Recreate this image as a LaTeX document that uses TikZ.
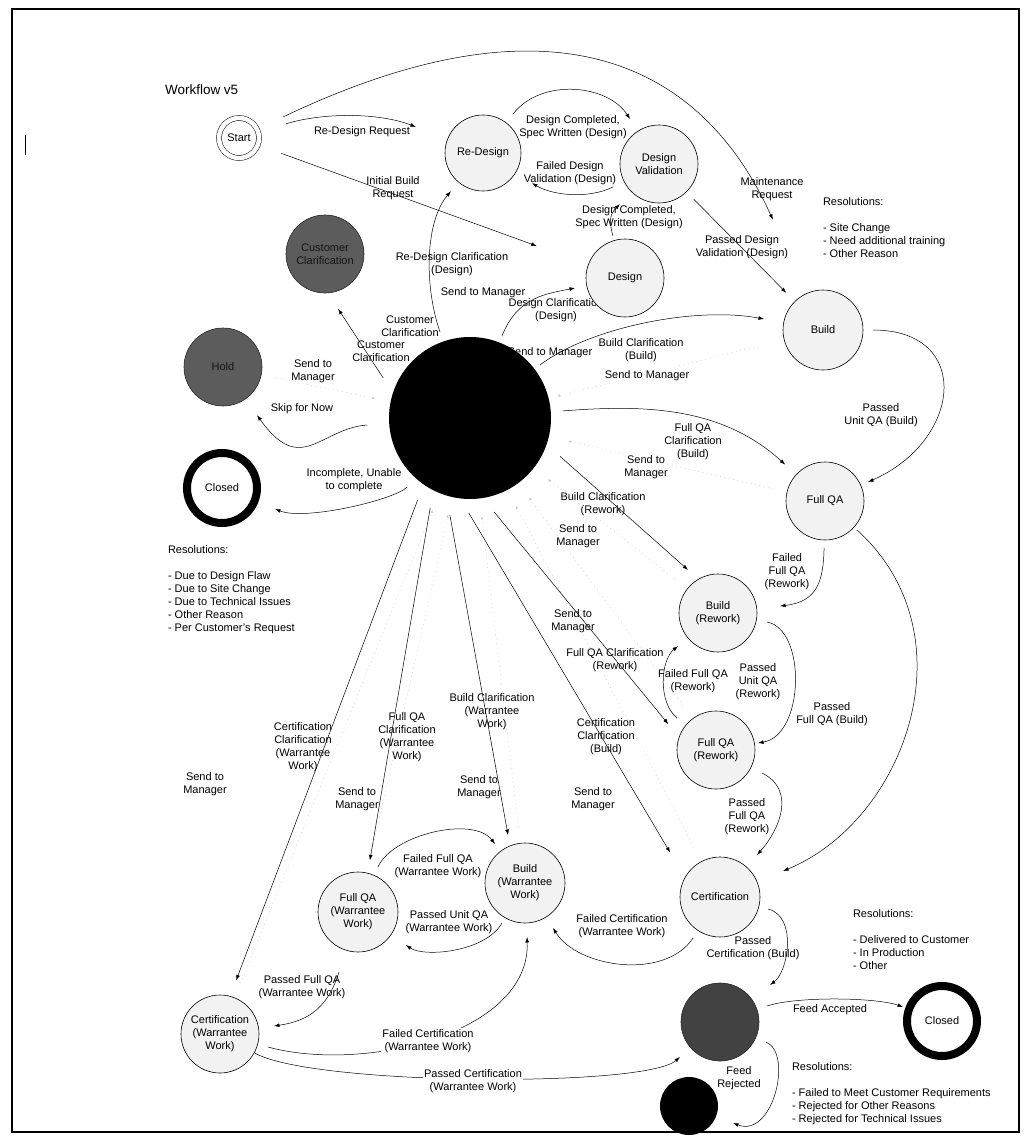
\documentclass[tikz,border=0pt]{standalone}
\usepackage{fontspec}
\setmainfont{Liberation Sans}
\usetikzlibrary{arrows.meta}

\begin{document}
\begin{tikzpicture}[x=1pt,y=1pt,
  every node/.style={font=\fontsize{11}{13}\selectfont, inner sep=0pt, outer sep=0pt},
  lbl/.style={align=center},
  res/.style={align=left, anchor=north west},
  stnode/.style={circle, draw=black, line width=0.6pt, fill=black!5, minimum size=#1, align=center},
  stnode/.default=78pt,
  darkstate/.style={circle, draw=black!85, line width=0.6pt, fill=black!64, text=black!92, minimum size=78pt, align=center},
  ring/.style={circle, draw=black, line width=8pt, fill=white, minimum size=70pt},
  conn/.style={draw=black, line width=0.5pt, -{Latex[length=5.5pt,width=3.8pt]}},
  mgr/.style={draw=black!22, line width=0.4pt, dash pattern=on 1pt off 3.5pt, -{Latex[length=3pt,width=2.4pt]}},
]
\useasboundingbox (0,0) rectangle (1023,-1137);

% frame and title
\draw[line width=2.2pt] (12,-9) rectangle (1019,-1132);
\draw[line width=0.8pt] (25,-135) -- (25,-155);
\node[anchor=west, font=\fontsize{13.5}{15}\selectfont] (title) at (165,-90) {Workflow v5};

% transition labels (placed first so that the states cover them where they overlap)
\node[lbl] (l1) at (362,-132) {Re-Design Request};
\node[lbl] (l2) at (393,-188) {Initial Build\\Request};
\node[lbl] (l3) at (573,-127) {Design Completed,\\Spec Written (Design)};
\node[lbl] (l4) at (570,-173) {Failed Design\\Validation (Design)};
\node[lbl] (l5) at (629,-217) {Design Completed,\\Spec Written (Design)};
\node[lbl] (l6) at (772,-189) {Maintenance\\Request};
\node[lbl] (l7) at (742,-247) {Passed Design\\Validation (Design)};
\node[lbl] (l8) at (452,-264) {Re-Design Clarification\\(Design)};
\node[lbl] (l9) at (483,-293) {Send to Manager};
\node[lbl] (l10) at (556,-310) {Design Clarification\\(Design)};
\node[lbl] (l11) at (410,-326) {Customer\\Clarification};
\node[lbl] (l12) at (381,-351) {Customer\\Clarification};
\node[lbl] (l13) at (313,-371) {Send to\\Manager};
\node[lbl] (l14) at (302,-409) {Skip for Now};
\node[lbl] (l15) at (354,-480) {Incomplete, Unable\\to complete};
\node[lbl] (l16) at (550,-353) {Send to Manager};
\node[lbl] (l17) at (641,-350) {Build Clarification\\(Build)};
\node[lbl] (l18) at (647,-376) {Send to Manager};
\node[lbl] (l19) at (693,-442) {Full QA\\Clarification\\(Build)};
\node[lbl] (l20) at (646,-467) {Send to\\Manager};
\node[lbl] (l21) at (881,-415) {Passed\\Unit QA (Build)};
\node[lbl] (l22) at (603,-504) {Build Clarification\\(Rework)};
\node[lbl] (l23) at (578,-536) {Send to\\Manager};
\node[lbl] (l24) at (787,-572) {Failed\\Full QA\\(Rework)};
\node[lbl] (l25) at (573,-621) {Send to\\Manager};
\node[lbl] (l26) at (615,-660) {Full QA Clarification\\(Rework)};
\node[lbl] (l27) at (693,-681) {Failed Full QA\\(Rework)};
\node[lbl] (l28) at (758,-682) {Passed\\Unit QA\\(Rework)};
\node[lbl] (l29) at (832,-714) {Passed\\Full QA (Build)};
\node[lbl] (l30) at (606,-737) {Certification\\Clarification\\(Build)};
\node[lbl] (l31) at (593,-799) {Send to\\Manager};
\node[lbl] (l32) at (747,-817) {Passed\\Full QA\\(Rework)};
\node[lbl] (l33) at (303,-747) {Certification\\Clarification\\(Warrantee\\Work)};
\node[lbl] (l34) at (407,-737) {Full QA\\Clarification\\(Warrantee\\Work)};
\node[lbl] (l35) at (205,-784) {Send to\\Manager};
\node[lbl] (l36) at (357,-799) {Send to\\Manager};
\node[lbl] (l37) at (492,-712) {Build Clarification\\(Warrantee\\Work)};
\node[lbl] (l38) at (479,-787) {Send to\\Manager};
\node[lbl] (l39) at (438,-866) {Failed Full QA\\(Warrantee Work)};
\node[lbl] (l40) at (449,-922) {Passed Unit QA\\(Warrantee Work)};
\node[lbl] (l41) at (622,-926) {Failed Certification\\(Warrantee Work)};
\node[lbl] (l42) at (753,-948) {Passed\\Certification (Build)};
\node[lbl] (l43) at (830,-1010) {Feed Accepted};
\node[lbl] (l44) at (739,-1078) {Feed\\Rejected};
\node[lbl] (l45) at (302,-987) {Passed Full QA\\(Warrantee Work)};

% resolution notes
\node[res] (r1) at (823,-198) {Resolutions:\\[13pt]- Site Change\\- Need additional training\\- Other Reason};
\node[res] (r2) at (168,-546) {Resolutions:\\[13pt]- Due to Design Flaw\\- Due to Site Change\\- Due to Technical Issues\\- Other Reason\\- Per Customer's Request};
\node[res] (r3) at (853,-910) {Resolutions:\\[13pt]- Delivered to Customer\\- In Production\\- Other};
\node[res] (r4) at (792,-1063) {Resolutions:\\[13pt]- Failed to Meet Customer Requirements\\- Rejected for Other Reasons\\- Rejected for Technical Issues};

% states
\node[circle, draw, line width=0.5pt, double, double distance=4.5pt, minimum size=40pt] (start) at (239,-138) {Start};
\node[stnode=76pt] (redesign) at (483,-153) {Re-Design};
\node[stnode=78pt] (dval) at (659,-164) {Design\\Validation};
\node[stnode=78pt] (design) at (625,-278) {Design};
\node[stnode=80pt] (build) at (823,-330) {Build};
\node[darkstate] (custc) at (325,-254) {Customer\\Clarification};
\node[darkstate] (hold) at (223,-367) {Hold};
\node[ring] (closedL) at (222,-488) {Closed};
\node[circle, fill=black, minimum size=162pt] (hub) at (470,-418) {};
\node[stnode=78pt] (fullqa) at (825,-501) {Full QA};
\node[stnode=78pt] (buildrw) at (718,-613) {Build\\(Rework)};
\node[stnode=78pt] (fullqarw) at (716,-750) {Full QA\\(Rework)};
\node[stnode=80pt] (cert) at (720,-897) {Certification};
\node[darkstate, fill=black!74] (feed) at (720,-1022) {};
\node[circle, fill=black, minimum size=58pt] (rejected) at (689,-1106) {};
\node[ring] (closedR) at (942,-1021) {Closed};
\node[stnode=80pt] (buildww) at (525,-883) {Build\\(Warrantee\\Work)};
\node[stnode=80pt] (fullqaww) at (358,-912) {Full QA\\(Warrantee\\Work)};
\node[stnode=78pt] (certww) at (220,-1034) {Certification\\(Warrantee\\Work)};

% hand-offs to the manager
\draw[mgr, shorten <=15pt, shorten >=16pt] (hold) -- (hub);
\draw[mgr, shorten <=22pt, shorten >=9pt] (build) -- (hub);
\draw[mgr, shorten <=14pt, shorten >=20pt] (fullqa) -- (hub);
\draw[mgr, shorten <=16pt, shorten >=18pt] (buildrw) -- (hub);
\draw[mgr, shorten <=16pt, shorten >=18pt] (fullqarw) -- (hub);
\draw[mgr, shorten <=16pt, shorten >=18pt] (cert) -- (hub);
\draw[mgr, shorten <=16pt, shorten >=18pt] (buildww) -- (hub);
\draw[mgr, shorten <=16pt, shorten >=18pt] (fullqaww) -- (hub);
\draw[mgr, shorten <=16pt, shorten >=18pt] (certww) -- (hub);

% transitions
\draw[conn, shorten <=29pt, shorten >=34pt] (start) .. controls (325,-112) and (380,-113) .. (redesign);
\draw[conn, shorten <=25pt, shorten >=55pt] (start) -- (design);
\draw[conn, shorten <=29pt, shorten >=81pt] (start) .. controls (546,8.5) and (698.8,-56.7) .. (build);
\draw[conn, shorten <=11pt, shorten >=14.5pt] (redesign) .. controls (541,-77.7) and (607.5,-84.1) .. (dval);
\draw[conn, shorten <=12pt, shorten >=19.5pt] (dval) .. controls (587.4,-199.8) and (551.2,-194.8) .. (redesign);
\draw[conn, shorten <=4.7pt, shorten >=17pt] (design) .. controls (608.5,-220.3) and (610.1,-214.1) .. (dval);
\draw[conn, shorten <=10.5pt, shorten >=12.3pt] (dval) -- (build);
\draw[conn, shorten <=10pt, shorten >=12pt] (hub) .. controls (424,-286) and (425,-222) .. (redesign);
\draw[conn, shorten <=7pt, shorten >=12pt] (hub) .. controls (517.3,-296.8) and (546.6,-293.7) .. (design);
\draw[conn, shorten <=18pt, shorten >=19pt] (hub.162) -- (custc.-86);
\draw[conn, shorten <=22pt, shorten >=20pt] (hub) .. controls (320.3,-428.2) and (301,-477.2) .. (hold);
\draw[conn, shorten <=12.4pt, shorten >=22pt] (hub) .. controls (395.9,-499.3) and (305.7,-521.1) .. (closedL);
\draw[conn, shorten <=6.8pt, shorten >=20pt] (hub) .. controls (589.6,-327.4) and (695.2,-306.2) .. (build);
\draw[conn, shorten <=12pt, shorten >=15pt] (hub) .. controls (640,-405) and (720,-405) .. (fullqa);
\draw[conn, shorten <=18pt, shorten >=14pt] (hub.-19.5) -- (buildrw.120);
\draw[conn, shorten <=18pt, shorten >=17pt] (hub.-81) -- (fullqarw.161);
\draw[conn, shorten <=17pt, shorten >=29pt] (hub.-97.5) -- (cert.151.5);
\draw[conn, shorten <=20pt, shorten >=11pt] (hub.-107) -- (buildww.112);
\draw[conn, shorten <=18pt, shorten >=13pt] (hub.-117) -- (fullqaww.76);
\draw[conn, shorten <=17pt, shorten >=17pt] (hub.-125) -- (certww.75.5);
\draw[conn, shorten <=10pt, shorten >=8pt] (build) .. controls (973,-330) and (962.3,-440.4) .. (fullqa);
\draw[conn, shorten <=8pt, shorten >=23.4pt] (fullqa) .. controls (823.4,-581) and (817.4,-601.8) .. (buildrw);
\draw[conn, shorten <=4pt, shorten >=28.2pt] (fullqa) .. controls (973.2,-635.2) and (904.8,-820.8) .. (cert);
\draw[conn, shorten <=10.8pt, shorten >=3.6pt] (buildrw) .. controls (806.6,-629.3) and (804.7,-735.2) .. (fullqarw);
\draw[conn, shorten <=11.4pt, shorten >=12.9pt] (fullqarw) .. controls (658,-702.4) and (660.2,-660.7) .. (buildrw);
\draw[conn, shorten <=12.4pt, shorten >=16pt] (fullqarw) .. controls (796.5,-790.2) and (779.5,-829.5) .. (cert);
\draw[conn, shorten <=9.1pt, shorten >=13pt] (cert) .. controls (665,-980.5) and (577.8,-967.9) .. (buildww);
\draw[conn, shorten <=9.5pt, shorten >=23.2pt] (cert) .. controls (797.6,-916.4) and (788.3,-971.4) .. (feed);
\draw[conn, shorten <=10.6pt, shorten >=6.4pt] (feed) .. controls (795.8,-996.2) and (876.1,-997.3) .. (closedR);
\draw[conn, shorten <=11.2pt, shorten >=18.2pt] (feed) .. controls (793.4,-1053.8) and (772.9,-1138.4) .. (rejected);
\draw[conn, shorten <=6.1pt, shorten >=18.2pt] (buildww) .. controls (485.1,-952.4) and (423.9,-957.4) .. (fullqaww);
\draw[conn, shorten <=9.2pt, shorten >=9.2pt] (fullqaww) .. controls (392.5,-834.3) and (473.2,-815.6) .. (buildww);
\draw[conn, shorten <=22.9pt, shorten >=15.6pt] (fullqaww) .. controls (327.8,-1007.4) and (309,-1020.8) .. (certww);
\draw[conn, shorten <=10.7pt, shorten >=14pt] (certww) .. controls (364.9,-1073.3) and (530.6,-1033) .. (buildww);
\draw[conn, shorten <=1.2pt, shorten >=14.2pt] (certww) .. controls (313.9,-1085.5) and (644.8,-1087.8) .. (feed);

% labels that sit on top of their connectors
\node[lbl, fill=white, inner sep=1pt] (l46) at (428,-1041) {Failed Certification\\(Warrantee Work)};
\node[lbl, fill=white, inner sep=1pt] (l47) at (473,-1081) {Passed Certification\\(Warrantee Work)};
\end{tikzpicture}
\end{document}
